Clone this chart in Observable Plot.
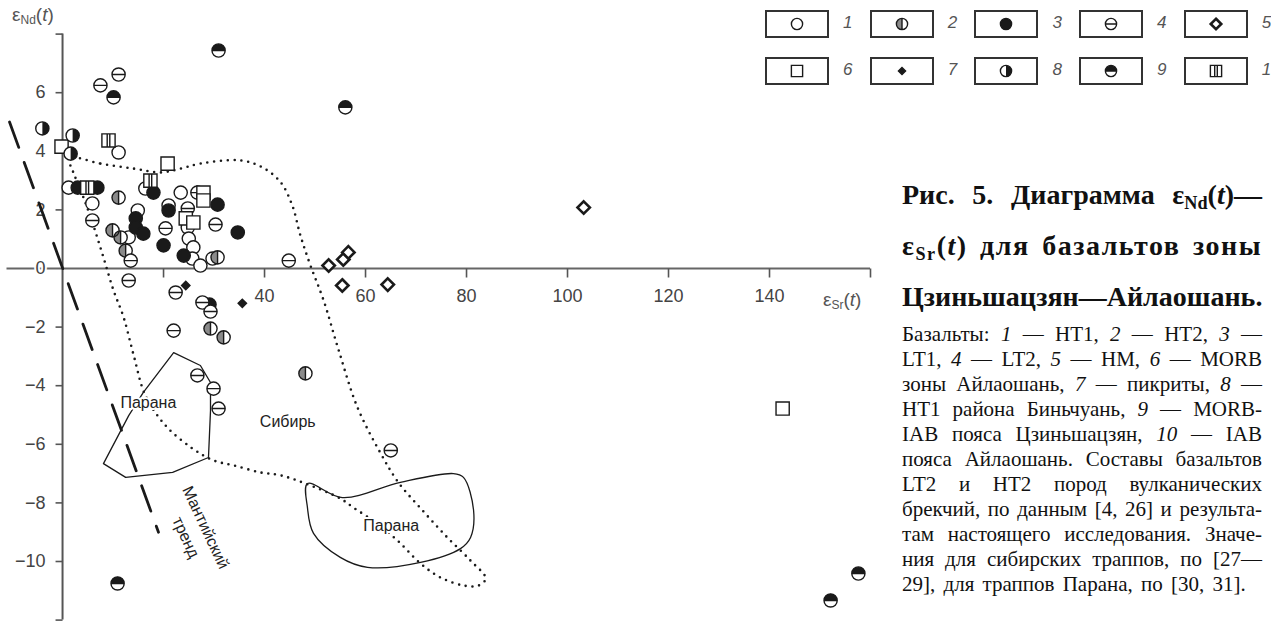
<!DOCTYPE html>
<html lang="ru">
<head>
<meta charset="utf-8">
<script src="https://cdn.jsdelivr.net/npm/d3@7"></script>
<script src="https://cdn.jsdelivr.net/npm/@observablehq/plot@0.6"></script>
<style>
  html, body { margin: 0; padding: 0; background: #fff; }
  body { width: 1271px; height: 622px; overflow: hidden; position: relative;
         font-family: "Liberation Sans", Arial, sans-serif; }
  #chart { position: absolute; left: 0; top: 0; }
  .axlab { position: absolute; font-size: 19px; color: #555; white-space: nowrap; }
  .axlab sub { font-size: 12px; }
  #legend { position: absolute; left: 765px; top: 10px; width: 506px; height: 90px; }
  .lg { position: absolute; width: 60px; height: 24px; border: 2px solid #333; box-sizing: content-box; }
  .lg svg { position: absolute; left: 0; top: 0; }
  .lgn { position: absolute; font-style: italic; font-size: 17px; color: #555; }
  .cap { position: absolute; left: 902px; width: 360px; font-family: "Liberation Serif", "Times New Roman", serif; color: #111; }
  .ttl div { font-weight: bold; font-size: 28px; height: 51px; line-height: 51px; text-align: justify; text-align-last: justify; white-space: nowrap; }
  .ttl div.spaced { letter-spacing: 1.5px; }
  .note div { font-size: 21px; height: 25px; line-height: 25px; text-align: justify; text-align-last: justify; white-space: nowrap; }
  .note div.last { text-align-last: left; word-spacing: 3px; }
  sub { font-size: 0.65em; vertical-align: -0.25em; }
</style>
</head>
<body>
<div id="chart"></div>
<div class="axlab" style="left:12px; top:4px;">ε<sub>Nd</sub>(<i>t</i>)</div>
<div class="axlab" style="left:823px; top:289px;">ε<sub>Sr</sub>(<i>t</i>)</div>
<div id="legend"></div>
<div class="cap ttl" style="top:169px;">
  <div>Рис. 5. Диаграмма ε<sub>Nd</sub>(<i>t</i>)—</div>
  <div class="spaced">ε<sub>Sr</sub>(<i>t</i>) для базальтов зоны</div>
  <div>Цзиньшацзян—Айлаошань.</div>
</div>
<div class="cap note" style="top:322px;">
  <div>Базальты: <i>1</i> — HT1, <i>2</i> — HT2, <i>3</i> —</div>
  <div>LT1, <i>4</i> — LT2, <i>5</i> — HM, <i>6</i> — MORB</div>
  <div>зоны Айлаошань, <i>7</i> — пикриты, <i>8</i> —</div>
  <div>HT1 района Биньчуань, <i>9</i> — MORB-</div>
  <div>IAB пояса Цзиньшацзян, <i>10</i> — IAB</div>
  <div>пояса Айлаошань. Составы базальтов</div>
  <div>LT2 и HT2 пород вулканических</div>
  <div>брекчий, по данным [4, 26] и результа-</div>
  <div>там настоящего исследования. Значе-</div>
  <div>ния для сибирских траппов, по [27—</div>
  <div class="last">29], для траппов Парана, по [30, 31].</div>
</div>
<script>
// ---- samples: [εSr(t), εNd(t)] ----
const ht1 = [[11.1,3.96],[5.9,2.22],[14.9,1.98],[16.4,2.73],[23.4,2.59],[21.0,2.15],[24.8,1.40],[25.0,1.02],[25.9,0.72],[25.7,0.34],[27.3,0.10],[29.7,0.34],[1.2,2.76],[13.1,1.06]];
const ht2 = [[11.1,2.42],[9.9,1.30],[11.5,1.06],[12.5,0.61],[30.7,0.38],[29.3,-2.05],[31.9,-2.35],[48.1,-3.58]];
const lt1 = [[3.0,2.76],[6.9,2.76],[14.5,1.71],[14.5,1.40],[16.0,1.19],[18.0,2.59],[21.0,1.98],[20.0,0.79],[30.7,2.18],[34.7,1.23],[24.0,0.44],[29.1,-1.23]];
const lt2 = [[11.1,6.62],[7.5,6.25],[5.9,1.64],[13.5,0.27],[13.1,-0.41],[20.4,1.37],[24.8,2.05],[26.7,2.59],[30.3,1.50],[44.8,0.27],[22.4,-0.82],[27.7,-1.16],[29.3,-1.47],[22.0,-2.12],[26.7,-3.65],[29.9,-4.10],[30.9,-4.78],[65.0,-6.21]];
const hm = [[103.2,2.08],[52.7,0.10],[55.6,0.31],[56.6,0.55],[55.4,-0.58],[64.4,-0.55]];
const morbAilao = [[-0.2,4.16],[20.8,3.58],[27.9,2.59],[27.9,2.32],[24.4,1.71],[25.9,1.57],[142.6,-4.78]];
const picrites = [[24.4,-0.58],[35.6,-1.19]];
const ht1Binchuan = [[-4.0,4.78],[2.0,4.54],[1.6,3.92]];
const morbIabJinsha = [[30.9,7.44],[10.1,5.84],[56.0,5.50],[10.9,-10.75],[152.1,-11.33],[157.6,-10.41]];
const iabAilao = [[9.1,4.37],[4.9,2.76],[17.4,3.0]];

// ---- fields and trend ----
const siberia = [[1.2,3.79],[7.5,3.58],[14.1,3.41],[19.4,3.28],[23.4,3.41],[27.3,3.58],[35.2,3.69],[39.6,3.45],[43.2,2.94],[45.5,2.15],[47.1,1.13],[49.1,0.10],[51.7,-1.09],[54.7,-2.80],[58.4,-4.74],[63.0,-6.31],[66.5,-7.30],[71.3,-8.26],[76.2,-9.18],[80.8,-9.97],[83.8,-10.58],[82.4,-10.82],[79.4,-10.82],[74.9,-10.55],[70.9,-10.07],[66.3,-9.28],[62.0,-8.67],[57.6,-8.16],[55.0,-7.85],[48.1,-7.34],[43.2,-7.06],[39.2,-6.96],[33.9,-6.72],[29.9,-6.55],[25.7,-6.14],[20.4,-5.36],[16.4,-4.33],[14.1,-2.97],[12.1,-1.67],[10.1,-0.75],[8.1,0.38],[6.1,1.47],[4.0,2.49],[2.0,3.34]];
const paranaUpper = [[22.0,-2.87],[27.3,-3.31],[29.3,-3.89],[29.3,-4.85],[28.9,-6.45],[21.8,-6.96],[12.5,-7.13],[8.1,-6.66],[13.1,-5.02],[16.0,-4.23]];
const paranaLower = [[48.5,-7.34],[55.4,-7.82],[66.9,-7.30],[77.4,-7.00],[79.4,-7.13],[81.4,-8.26],[80.8,-9.18],[78.8,-9.56],[70.9,-10.03],[60.4,-10.20],[55.0,-9.86],[49.7,-9.04],[48.5,-8.16]];
const mantleTrend = [[-10.5,5.0],[19.0,-9.0]];
const fieldLabels = [
  {x: 17.0, y: -4.6, text: "Парана"},
  {x: 44.6, y: -5.22, text: "Сибирь"},
  {x: 65.1, y: -8.77, text: "Парана"}
];
const trendLabels = [
  {x: 28.3, y: -8.84, text: "Мантийский"},
  {x: 24.4, y: -9.18, text: "тренд"}
];

// ---- axes ----
const xDomain = [-11, 160];
const yDomain = [-12, 8];
const xTicks = [20, 40, 60, 80, 100, 120, 140, 160];
const xTickLabels = [40, 60, 80, 100, 120, 140];
const yTicks = [8, 6, 4, 2, -2, -4, -6, -8, -10, -12];
const yTickLabels = [6, 4, 2, 0, -2, -4, -6, -8, -10];

const INK = "#1a1a1a";
const rOf = s => Math.sqrt(s / Math.PI);
const TAU = 2 * Math.PI;

// marker glyphs (d3-symbol style objects)
const sym = {
  circle:   {draw(c, s) { const r = rOf(s); c.moveTo(r, 0); c.arc(0, 0, r, 0, TAU); }},
  circleH:  {draw(c, s) { const r = rOf(s); c.moveTo(r, 0); c.arc(0, 0, r, 0, TAU); c.moveTo(-r, 0); c.lineTo(r, 0); }},
  circleV:  {draw(c, s) { const r = rOf(s); c.moveTo(r, 0); c.arc(0, 0, r, 0, TAU); c.moveTo(0, -r); c.lineTo(0, r); }},
  halfLeft: {draw(c, s) { const r = rOf(s); c.moveTo(0, r); c.arc(0, 0, r, Math.PI / 2, 3 * Math.PI / 2); c.closePath(); }},
  halfRight:{draw(c, s) { const r = rOf(s); c.moveTo(0, -r); c.arc(0, 0, r, -Math.PI / 2, Math.PI / 2); c.closePath(); }},
  halfTop:  {draw(c, s) { const r = rOf(s); c.moveTo(-r, 0); c.arc(0, 0, r, Math.PI, TAU); c.closePath(); }},
  square:   {draw(c, s) { const a = rOf(s); c.rect(-a, -a, 2 * a, 2 * a); }},
  squareII: {draw(c, s) { const a = rOf(s); c.rect(-a, -a, 2 * a, 2 * a); c.moveTo(-1.3, -a); c.lineTo(-1.3, a); c.moveTo(1.3, -a); c.lineTo(1.3, a); }},
  diamond:  {draw(c, s) { const a = rOf(s); c.moveTo(0, -a); c.lineTo(a, 0); c.lineTo(0, a); c.lineTo(-a, 0); c.closePath(); }},
  vtick:    {draw(c) { c.moveTo(0, 0); c.lineTo(0, 9); }},
  htick:    {draw(c) { c.moveTo(-7, 0); c.lineTo(0, 0); }}
};

// layered drawing recipe for each sample group
const groups = [
  {data: ht1, layers: [{s: sym.circle, fill: "white", stroke: INK}]},
  {data: ht2, layers: [{s: sym.circle, fill: "white"}, {s: sym.halfLeft, fill: "#8a8a8a"}, {s: sym.circleV, fill: "none", stroke: INK}]},
  {data: lt1, layers: [{s: sym.circle, fill: INK, stroke: INK}]},
  {data: lt2, layers: [{s: sym.circleH, fill: "white", stroke: INK}]},
  {data: hm, layers: [{s: sym.diamond, fill: "white", stroke: INK, sw: 2.6, r: 6.2}]},
  {data: morbAilao, layers: [{s: sym.square, fill: "white", stroke: INK, r: 6.6}]},
  {data: picrites, layers: [{s: sym.diamond, fill: INK, stroke: INK, r: 4.2}]},
  {data: ht1Binchuan, layers: [{s: sym.circle, fill: "white"}, {s: sym.halfRight, fill: INK}, {s: sym.circle, fill: "none", stroke: INK}]},
  {data: morbIabJinsha, layers: [{s: sym.circle, fill: "white"}, {s: sym.halfTop, fill: INK}, {s: sym.circleH, fill: "none", stroke: INK}]},
  {data: iabAilao, layers: [{s: sym.squareII, fill: "white", stroke: INK, r: 6.6}]}
];
const R = 6.6;

const pointMarks = groups.flatMap(g => g.layers.map(l =>
  Plot.dot(g.data, {
    x: d => d[0], y: d => d[1], r: l.r ?? R, symbol: l.s,
    fill: l.fill, stroke: l.stroke ?? "none", strokeWidth: l.sw ?? 1.4
  })
));

const chart = Plot.plot({
  width: 880, height: 622, margin: 0,
  style: {background: "transparent", fontFamily: "Liberation Sans, Arial, sans-serif"},
  x: {domain: xDomain, range: [6.5, 870], axis: null},
  y: {domain: yDomain, range: [619.6, 33.6], axis: null},
  marks: [
    // axes through the origin
    Plot.ruleY([0], {x1: xDomain[0], x2: xDomain[1], stroke: "#666", strokeWidth: 2}),
    Plot.ruleX([0], {y1: yDomain[0], y2: yDomain[1], stroke: "#555", strokeWidth: 2}),
    Plot.dot(xTicks, {x: d => d, y: 0, symbol: sym.vtick, stroke: "#555", strokeWidth: 1.6}),
    Plot.dot(yTicks, {x: 0, y: d => d, symbol: sym.htick, stroke: "#555", strokeWidth: 1.6}),
    Plot.text(xTickLabels, {x: d => d, y: 0, dy: 28, text: d => String(d), fontSize: 18, fill: "#444"}),
    Plot.text(yTickLabels, {x: 0, y: d => d, dx: -17, textAnchor: "end", fontSize: 18, fill: "#444",
      text: d => d < 0 ? "\u2212" + (-d) : String(d), stroke: "white", strokeWidth: 4}),
    // Siberian traps field (dotted)
    Plot.line(siberia, {x: d => d[0], y: d => d[1], curve: "catmull-rom-closed", stroke: INK,
      strokeWidth: 2.6, strokeDasharray: "0 6.8", strokeLinecap: "round"}),
    // Paraná fields
    Plot.line(paranaUpper, {x: d => d[0], y: d => d[1], curve: "linear-closed", stroke: INK, strokeWidth: 1.3}),
    Plot.line(paranaLower, {x: d => d[0], y: d => d[1], curve: "catmull-rom-closed", stroke: INK, strokeWidth: 1.3}),
    // mantle array
    Plot.line(mantleTrend, {x: d => d[0], y: d => d[1], stroke: INK, strokeWidth: 2.8, strokeDasharray: "27 16"}),
    Plot.text(fieldLabels, {x: "x", y: "y", text: "text", fontSize: 16, fill: "#222", stroke: "white", strokeWidth: 4}),
    Plot.text(trendLabels, {x: "x", y: "y", text: "text", fontSize: 16, fill: "#222", rotate: 65}),
    ...pointMarks
  ]
});
document.getElementById("chart").appendChild(chart);

// ---- legend ----
const legendItems = [
  {n: "1", g: groups[0]}, {n: "2", g: groups[1]}, {n: "3", g: groups[2]}, {n: "4", g: groups[3]}, {n: "5", g: groups[4]},
  {n: "6", g: groups[5]}, {n: "7", g: groups[6]}, {n: "8", g: groups[7]}, {n: "9", g: groups[8]}, {n: "10", g: groups[9]}
];
const legend = d3.select("#legend");
legendItems.forEach((item, i) => {
  const col = i % 5, row = Math.floor(i / 5);
  const left = col * 104.7, top = row * 47;
  const box = legend.append("div").attr("class", "lg").style("left", left + "px").style("top", top + "px");
  const svg = box.append("svg").attr("width", 60).attr("height", 24);
  item.g.layers.forEach(l => {
    const r = (l.r ?? R) * 0.85;
    const p = d3.path();
    l.s.draw(p, r * r * Math.PI);
    svg.append("path").attr("d", p.toString()).attr("transform", "translate(30,12)")
      .attr("fill", l.fill).attr("stroke", l.stroke ?? "none").attr("stroke-width", l.sw ?? 1.4);
  });
  legend.append("div").attr("class", "lgn").style("left", (left + 78) + "px").style("top", (top + 3) + "px").text(item.n);
});
</script>
</body>
</html>
